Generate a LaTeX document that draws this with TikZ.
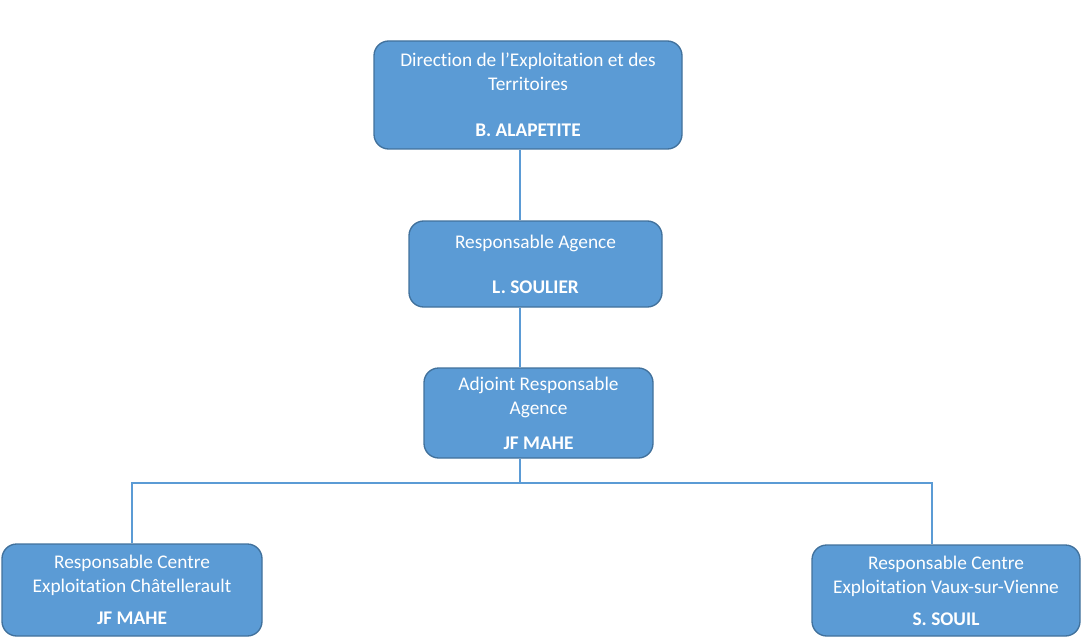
\documentclass[tikz,border=0pt]{standalone}
\usepackage{fontspec}
\setmainfont[Ligatures=NoCommon]{Carlito}
\definecolor{boxfill}{HTML}{5B9BD5}
\definecolor{boxline}{HTML}{41719C}
\definecolor{linkblue}{HTML}{5B9BD5}

\begin{document}
\begin{tikzpicture}[
     x=0.75pt, y=-0.75pt,
     poste/.style={draw=boxline, line width=1pt, fill=boxfill, rounded corners=11pt,
       text=white, align=center, inner sep=0pt,
       font=\fontsize{14.5pt}{18pt}\selectfont},
     link/.style={draw=linkblue, line width=0.8pt}
   ]
   \path[use as bounding box] (0,0) rectangle (1081,638);
   % Postes.
   \node[poste, minimum width=231pt, minimum height=81pt] (dir) at (528,95)
     {Direction de l’Exploitation et des\\Territoires\\[16.5pt]\textbf{B. ALAPETITE}};
   \node[poste, minimum width=189.75pt, minimum height=64.5pt] (agence) at (535.5,264)
     {Responsable Agence\\[15.75pt]\textbf{L. SOULIER}};
   \node[poste, minimum width=171.75pt, minimum height=67.5pt] (adjoint) at (538.5,413)
     {Adjoint Responsable\\Agence\\[8.25pt]\textbf{JF MAHE}};
   \node[poste, minimum width=195pt, minimum height=69pt] (chat) at (132,590)
     {Responsable Centre\\Exploitation Châtellerault\\[6pt]\textbf{JF MAHE}};
   \node[poste, minimum width=201pt, minimum height=68.25pt] (vaux) at (946,590.5)
     {Responsable Centre\\Exploitation Vaux-sur-Vienne\\[6pt]\textbf{S. SOUIL}};
   % Liaisons.
   \coordinate (tronc) at (520,483);
   \coordinate (droite) at (932,483);
   \draw[link] (dir.south -| tronc) -- (agence.north -| tronc);
   \draw[link] (agence.south -| tronc) -- (adjoint.north -| tronc);
   \draw[link] (adjoint.south -| tronc) -- (tronc);
   \draw[link] (chat.north) |- (droite) -- (droite |- vaux.north);
 \end{tikzpicture}
\end{document}
